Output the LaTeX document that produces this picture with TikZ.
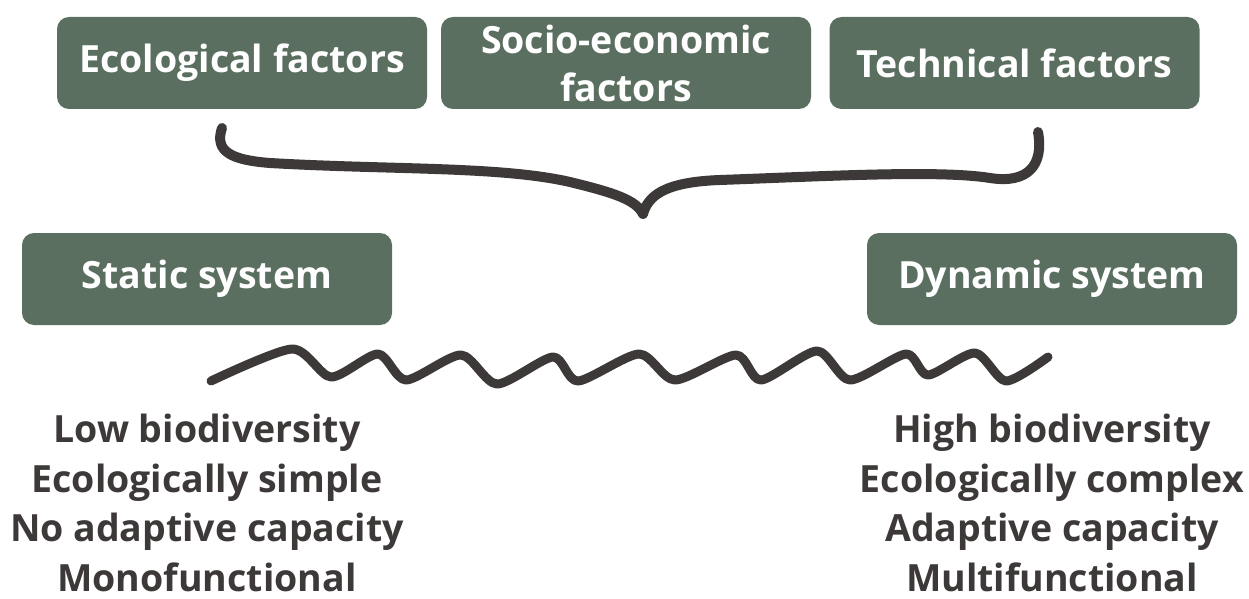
\documentclass[tikz,border=0pt]{standalone}
\usepackage{fontspec}
\setmainfont{Open Sans}
\definecolor{boxgreen}{HTML}{5A6F60}
\definecolor{inkgray}{HTML}{3E3939}
\begin{document}
\begin{tikzpicture}[x=1pt,y=-1pt,
  factorbox/.style={fill=boxgreen, draw=none, rounded corners=12pt, minimum width=370pt, minimum height=92pt, text=white, font=\fontsize{37.5}{48}\selectfont\bfseries, align=center, inner sep=0pt},
  listtext/.style={text=inkgray, font=\fontsize{37.5}{49.5}\selectfont\bfseries, align=center, inner sep=0pt},
  inkline/.style={draw=inkgray, line width=10pt, line cap=round, line join=round}]
\useasboundingbox (0,0) rectangle (1249,599);
\node[factorbox] (eco) at (242,63) {Ecological factors};
\node[factorbox] (socio) at (626,63) {Socio-economic\\factors};
\node[factorbox] (tech) at (1014.5,63) {Technical factors};
\node[factorbox] (static) at (207,279) {Static system};
\node[factorbox] (dynamic) at (1052,279) {Dynamic system};
% brace
\coordinate (bl) at (222,128);
\coordinate (btip) at (643,214);
\coordinate (br) at (1038,132);
\draw[inkline] (bl) .. controls (214,152) and (232,160) .. (270,163)
  .. controls (390,170) and (500,166) .. (570,182)
  .. controls (615,193) and (636,200) .. (btip)
  .. controls (648,196) and (664,182) .. (720,180)
  .. controls (830,176) and (940,170) .. (990,178)
  .. controls (1028,184) and (1044,165) .. (br);
% wave
\coordinate (ws) at (211,381);
\coordinate (we) at (1048,357);
\draw[inkline, line width=9pt] plot[smooth, tension=0.45] coordinates {
 (211,381) (292,349) (331,377) (378,354) (406,380) (461,355) (497,384)
 (553,357) (578,381) (639,354) (675,380) (736,355) (761,380) (817,351)
 (850,380) (906,354) (928,375) (975,353) (1006,381) (1048,357)};
\node[listtext] (left) at (207,503) {Low biodiversity\\Ecologically simple\\No adaptive capacity\\Monofunctional};
\node[listtext] (right) at (1052,503) {High biodiversity\\Ecologically complex\\Adaptive capacity\\Multifunctional};
\end{tikzpicture}
\end{document}
